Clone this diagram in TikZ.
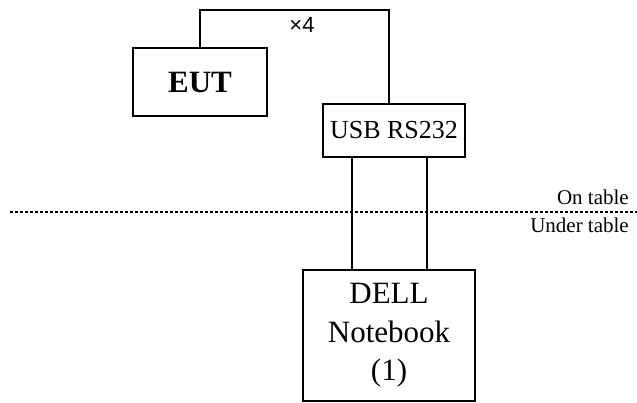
\documentclass[tikz,border=0pt]{standalone}
\usepackage{fontspec}
\setmainfont{Liberation Serif}
\newfontfamily\arialfont{Liberation Sans}
\usetikzlibrary{calc}
\tikzset{>=stealth}
\tikzset{
  unitbox/.style={draw,line width=1.4pt,inner sep=0pt,align=center},
  wire/.style={line width=1.4pt},
  tableline/.style={line width=1.1pt,dash pattern=on 3pt off 2pt}
}

\begin{document}
\begin{tikzpicture}[x=1pt,y=-1pt]  % pixel units, y downwards
  \useasboundingbox (0,0) rectangle (637,403);
  % boxes
  \node[unitbox,minimum width=134,minimum height=68,font=\fontsize{31}{34}\selectfont\bfseries] (eut) at (200,82) {EUT};
  \node[unitbox,minimum width=142,minimum height=53,font=\fontsize{26}{30}\selectfont] (usb) at (394,130.5) {USB RS232};
  \node[unitbox,minimum width=172,minimum height=131,font=\fontsize{31}{38.5}\selectfont] (nb) at (389,335.5) {DELL\\Notebook\\(1)};
  % wires
  \coordinate (bend) at (389,10);
  \draw[wire] (eut.north) |- (bend) -- (bend |- usb.north);
  \node[font=\arialfont\fontsize{22}{24}\selectfont,anchor=base] (times) at (302,33) {×4};
  \draw[wire] ([xshift=-42]usb.south) -- ([xshift=-42]usb.south |- nb.north);
  \draw[wire] ([xshift=33]usb.south) -- ([xshift=33]usb.south |- nb.north);
  % table edge
  \coordinate (tl) at (10,212);
  \coordinate (tr) at (637,212);
  \draw[tableline] (tl) -- (tr);
  \node[font=\fontsize{21}{24}\selectfont,anchor=base east,inner sep=0pt] (on) at (629,205) {On table};
  \node[font=\fontsize{21}{24}\selectfont,anchor=base east,inner sep=0pt] (under) at (629,233) {Under table};
\end{tikzpicture}
\end{document}
